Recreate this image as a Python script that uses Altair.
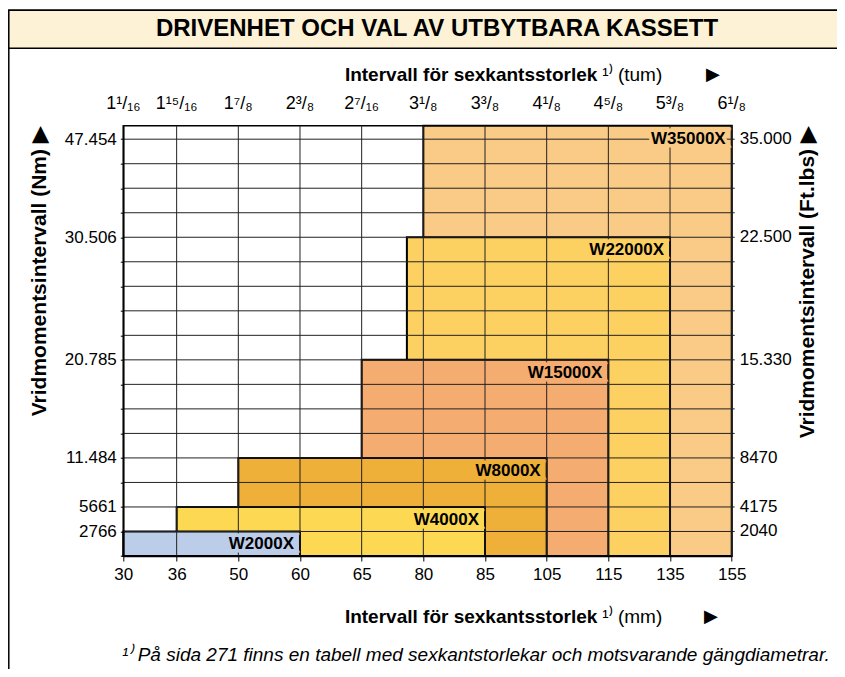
import altair as alt
import pandas as pd

# ---------------- data ----------------
mm_ticks = [30, 36, 50, 60, 65, 80, 85, 105, 115, 135, 155]
inch_labels = ["1¹/₁₆", "1¹⁵/₁₆", "1⁷/₈", "2³/₈", "2⁷/₁₆", "3¹/₈",
               "3³/₈", "4¹/₈", "4⁵/₈", "5³/₈", "6¹/₈"]
# relative column widths of the grid (first column is narrower)
col_units = [0, 0.865, 1.865, 2.865, 3.865, 4.865, 5.865, 6.865, 7.865, 8.865, 9.865]

label_rows = [1, 2, 4, 8, 13, 17]
nm_labels = ["2766", "5661", "11.484", "20.785", "30.506", "47.454"]
ftlb_labels = ["2040", "4175", "8470", "15.330", "22.500", "35.000"]
n_rows = 17
y_max = 17.55

names = ["W35000X", "W22000X", "W15000X", "W8000X", "W4000X", "W2000X"]
mm_from = [80, 76, 65, 50, 36, 30]
mm_to = [155, 135, 115, 105, 85, 60]
row_top = [y_max, 13, 8, 4, 2, 1]
colors = ["#F9CB87", "#FDD062", "#F5AC71", "#EEB038", "#FDD953", "#BCCDEA"]

# ---------------- layout ----------------
W = 608.4
H = 430.3
FONT = "Liberation Sans, Arial, Helvetica, sans-serif"

xs = alt.Scale(domain=mm_ticks, range=[u * W / col_units[-1] for u in col_units],
               zero=False, nice=False)
ys = alt.Scale(domain=[0, y_max], zero=False, nice=False)

df_box = pd.DataFrame({"name": names, "x0": mm_from, "x1": mm_to,
                       "y0": [0] * len(names), "y1": row_top, "color": colors})
df_rows = pd.DataFrame({"r": list(range(1, n_rows + 1))})
df_cols = pd.DataFrame({"mm": mm_ticks, "inch": inch_labels})
df_right = pd.DataFrame({"r": label_rows, "lab": ftlb_labels})
one = pd.DataFrame({"a": [0]})


def label_expr(rows, labels):
    s = " : ".join(f"datum.value == {r} ? '{l}'" for r, l in zip(rows, labels))
    return s + " : ''"


x_axis = alt.Axis(values=mm_ticks, title=None, grid=False, tickSize=5,
                  labelFontSize=17, labelPadding=5, labelColor="black",
                  tickColor="black", domainColor="black", domainWidth=1.5,
                  labelFont=FONT, labelOverlap=False, labelFlush=False, zindex=1)
y_axis = alt.Axis(values=list(range(0, n_rows + 1)), title=None, grid=False,
                  tickSize=3, labelFontSize=17, labelPadding=4,
                  labelColor="black", tickColor="black", domainColor="black",
                  domainWidth=1.5, labelFont=FONT, labelOverlap=False,
                  labelExpr=label_expr(label_rows, nm_labels), zindex=1)


def X(f):
    return alt.X(f, scale=xs, axis=x_axis)


def Y(f):
    return alt.Y(f, scale=ys, axis=y_axis)


# ---------------- decoration (frame + title band) ----------------
frame = alt.Chart(one).mark_rect(fill="transparent", stroke="black", strokeWidth=1.5).encode(
    x=alt.value(-114.5), x2=alt.value(W + 200), y=alt.value(-115.5), y2=alt.value(H + 200))
band = alt.Chart(one).mark_rect(fill="#FDF2D5", stroke="black", strokeWidth=1.5).encode(
    x=alt.value(-114.5), x2=alt.value(W + 200), y=alt.value(-115.5), y2=alt.value(-77.5))
title = alt.Chart(one).mark_text(text="DRIVENHET OCH VAL AV UTBYTBARA KASSETT",
                                 font=FONT, fontSize=24, fontWeight="bold",
                                 align="center", baseline="middle", color="black").encode(
    x=alt.value(313.7), y=alt.value(-96.5))

# ---------------- boxes ----------------
boxes = alt.Chart(df_box).mark_rect(stroke="black", strokeWidth=2).encode(
    x=X("x0:Q"), x2="x1:Q", y=Y("y0:Q"), y2="y1:Q",
    fill=alt.Fill("color:N", scale=None),
)

hgrid = alt.Chart(df_rows).mark_rule(color="#222", strokeWidth=1).encode(
    y=Y("r:Q"), x=alt.value(0), x2=alt.value(W + 3))
vgrid = alt.Chart(df_cols).mark_rule(color="#222", strokeWidth=1).encode(
    x=X("mm:Q"), y=alt.value(0), y2=alt.value(H))

halo = alt.Chart(df_box).mark_text(font=FONT, fontSize=17, fontWeight="bold",
                                   align="right", baseline="middle", dx=-6, dy=13,
                                   strokeWidth=7).encode(
    x=X("x1:Q"), y=Y("y1:Q"),
    text="name:N", stroke=alt.Stroke("color:N", scale=None),
    fill=alt.Fill("color:N", scale=None))
box_lab = alt.Chart(df_box).mark_text(font=FONT, fontSize=17, fontWeight="bold",
                                      align="right", baseline="middle", dx=-6, dy=13,
                                      color="black").encode(
    x=X("x1:Q"), y=Y("y1:Q"), text="name:N")

# ---------------- secondary axes as text ----------------
right_lab = alt.Chart(df_right).mark_text(font=FONT, fontSize=17, align="left",
                                          baseline="middle", color="black").encode(
    x=alt.value(W + 8), y=Y("r:Q"), text="lab:N")
top_lab = alt.Chart(df_cols).mark_text(font=FONT, fontSize=18, align="center",
                                       baseline="middle", color="black").encode(
    x=X("mm:Q"), y=alt.value(-22), text="inch:N")


# ---------------- axis titles / footnote ----------------
def txt(t, x, y, size=17, weight="normal", align="left", angle=0, style="normal"):
    kw = dict(text=t, font=FONT, fontSize=size, fontWeight=weight, align=align,
              baseline="middle", color="black", fontStyle=style)
    if angle:
        kw["angle"] = angle
    return alt.Chart(one).mark_text(**kw).encode(x=alt.value(x), y=alt.value(y))


top_t1 = txt("Intervall för sexkantsstorlek", 474, -50.5, 19, "bold", "right")
top_t2 = txt("¹⁾ (tum)", 479, -50.5, 19, "normal", "left")
top_t3 = txt("▶", 597, -50.5, 18, "normal", "right")
bot_t1 = txt("Intervall för sexkantsstorlek", 474, 491.5, 19, "bold", "right")
bot_t2 = txt("¹⁾ (mm)", 479, 491.5, 19, "normal", "left")
bot_t3 = txt("▶", 595, 491.5, 18, "normal", "right")
left_t = txt("Vridmomentsintervall (Nm) ▶", -83.5, 146, 21, "bold", "center", 270)
right_t = txt("Vridmomentsintervall (Ft.lbs) ▶", 684.5, 157, 21, "bold", "center", 270)
foot = txt("¹⁾ På sida 271 finns en tabell med sexkantstorlekar och motsvarande gängdiametrar.",
           706.5, 529.5, 19, "normal", "right", 0, "italic")

chart = alt.layer(
    frame, band, title, boxes, hgrid, vgrid, halo, box_lab, right_lab, top_lab,
    top_t1, top_t2, top_t3, bot_t1, bot_t2, bot_t3, left_t, right_t, foot,
).properties(
    width=W, height=H,
    autosize=alt.AutoSizeParams(type="none"),
    padding={"left": 115.3, "top": 117.7, "right": 829 - 115.3 - W, "bottom": 661 - 117.7 - H},
    background="white",
).configure_view(stroke="black", strokeWidth=1.5)

chart.save("out.html", embed_options={"renderer": "svg", "actions": False})
